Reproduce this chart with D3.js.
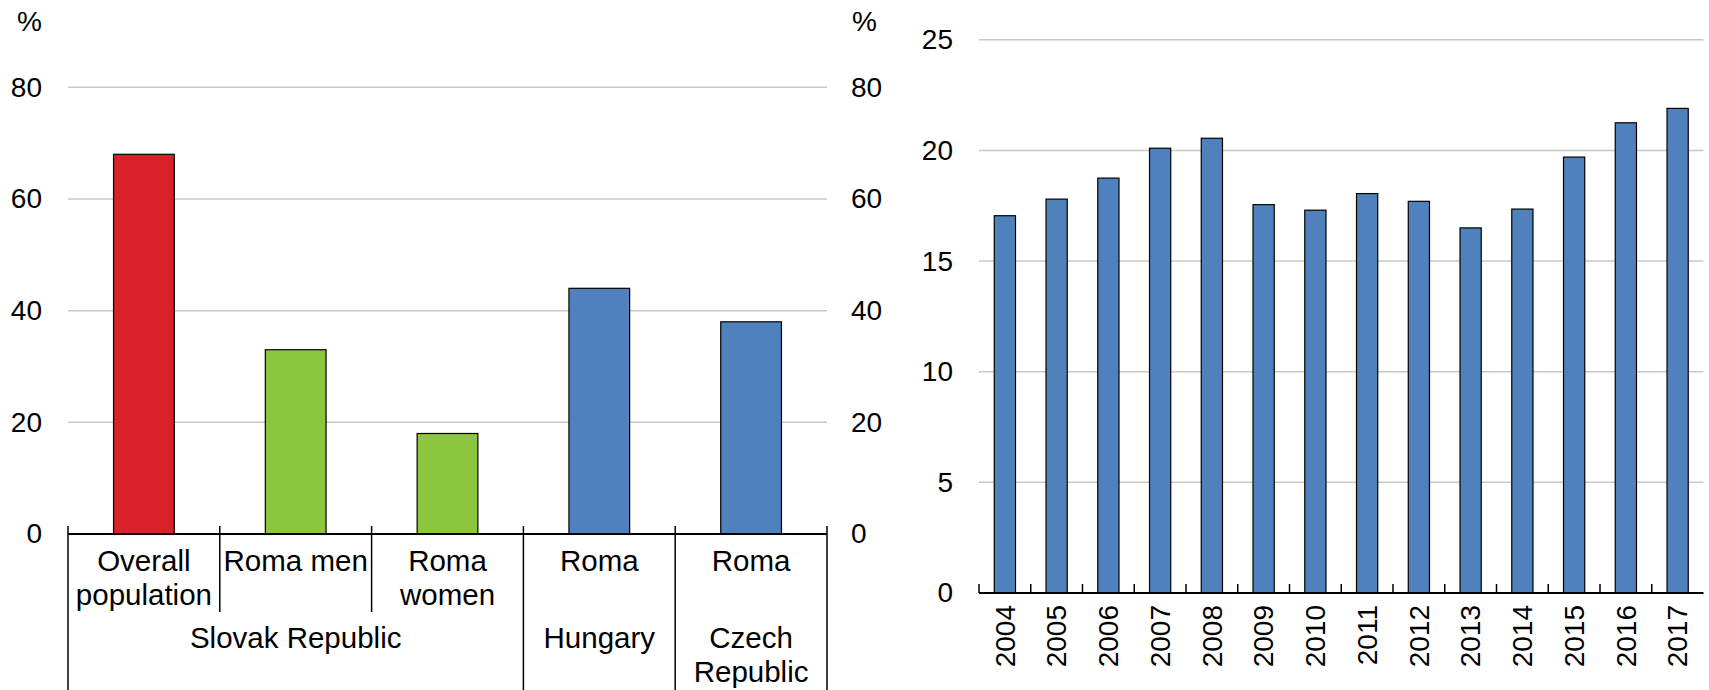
<!DOCTYPE html>
<html>
<head>
<meta charset="utf-8">
<script src="https://cdn.jsdelivr.net/npm/d3@7"></script>
<style>
  body { margin: 0; background: #fff; }
  svg text { font-family: "Liberation Sans", Arial, sans-serif; fill: #000; }
</style>
</head>
<body>
<svg id="chart" width="1709" height="690"></svg>
<script>
// left panel: categories (split in lines), groups, values
var catLabels = [["Overall", "population"], ["Roma men"], ["Roma", "women"], ["Roma"], ["Roma"]];
var groupLabels = [["Slovak Republic"], ["Hungary"], ["Czech", "Republic"]];
var groupSpans = [3, 1, 1];
var leftValues = [68, 33, 18, 44, 38];
var leftTicks = [0, 20, 40, 60, 80];

// right panel
var years = ["2004", "2005", "2006", "2007", "2008", "2009", "2010", "2011", "2012", "2013", "2014", "2015", "2016", "2017"];
var rightValues = [17.05, 17.8, 18.75, 20.1, 20.55, 17.55, 17.3, 18.05, 17.7, 16.5, 17.35, 19.7, 21.25, 21.9];
var rightTicks = [0, 5, 10, 15, 20, 25];

var leftColors = ["#D9212A", "#8CC63F", "#8CC63F", "#4F81BD", "#4F81BD"];
var blue = "#4F81BD";
var fontSize = 28;
var catFont = 29.5;

window.onload = function() {
  makeLeft();
  makeRight();
};

function makeLeft() {
  var svg = d3.select("#chart");
  var x0 = 68, x1 = 827, yTop = 87.3, yBot = 534;

  var x = d3.scaleBand()
    .domain(d3.range(leftValues.length))
    .range([x0, x1])
    .paddingInner(0.6)
    .paddingOuter(0.3);

  var y = d3.scaleLinear().domain([0, 80]).range([yBot, yTop]);

  // gridlines
  svg.append("g").selectAll("line")
    .data(leftTicks.filter(function(d) { return d > 0; }))
    .enter().append("line")
    .attr("x1", x0).attr("x2", x1)
    .attr("y1", y).attr("y2", y)
    .attr("stroke", "#c8c8c8").attr("stroke-width", 1.5);

  // axis labels, both sides
  var axL = svg.append("g").attr("transform", "translate(" + x0 + ",0)")
    .call(d3.axisLeft(y).tickValues(leftTicks).tickSize(0).tickPadding(26));
  var axR = svg.append("g").attr("transform", "translate(" + x1 + ",0)")
    .call(d3.axisRight(y).tickValues(leftTicks).tickSize(0).tickPadding(24));
  [axL, axR].forEach(function(a) {
    a.select(".domain").remove();
    a.selectAll("text").style("font-size", fontSize + "px").attr("font-family", null).attr("fill", "#000");
  });

  svg.append("text").attr("x", 42).attr("y", 21).attr("dy", "0.35em")
    .attr("text-anchor", "end").style("font-size", fontSize + "px").text("%");
  svg.append("text").attr("x", 852).attr("y", 21).attr("dy", "0.35em")
    .attr("text-anchor", "start").style("font-size", fontSize + "px").text("%");

  // bars
  svg.append("g").selectAll("rect")
    .data(leftValues)
    .enter().append("rect")
    .attr("x", function(d, i) { return x(i); })
    .attr("width", x.bandwidth())
    .attr("y", function(d) { return y(d); })
    .attr("height", function(d) { return yBot - y(d); })
    .attr("fill", function(d, i) { return leftColors[i]; })
    .attr("stroke", "#000").attr("stroke-width", 1.2);

  var step = x.step();
  function edge(i) { return x0 + i * step; }

  // group boundaries
  var groupEdges = [0];
  groupSpans.forEach(function(s) { groupEdges.push(groupEdges[groupEdges.length - 1] + s); });

  var g = svg.append("g").attr("stroke", "#000").attr("stroke-width", 1.5);
  d3.range(leftValues.length + 1).forEach(function(i) {
    var isGroup = groupEdges.indexOf(i) >= 0;
    g.append("line")
      .attr("x1", edge(i)).attr("x2", edge(i))
      .attr("y1", yBot - 8).attr("y2", isGroup ? 690 : 612);
  });
  g.append("line").attr("x1", x0).attr("x2", x1).attr("y1", yBot).attr("y2", yBot).attr("stroke-width", 2);

  // category labels
  catLabels.forEach(function(lines, i) {
    var t = svg.append("text").attr("text-anchor", "middle").style("font-size", catFont + "px");
    lines.forEach(function(l, j) {
      t.append("tspan").attr("x", edge(i) + step / 2).attr("y", 571 + j * 34).text(l);
    });
  });

  // group labels
  groupLabels.forEach(function(lines, k) {
    var cx = (edge(groupEdges[k]) + edge(groupEdges[k + 1])) / 2;
    var t = svg.append("text").attr("text-anchor", "middle").style("font-size", catFont + "px");
    lines.forEach(function(l, j) {
      t.append("tspan").attr("x", cx).attr("y", 648 + j * 34).text(l);
    });
  });
}

function makeRight() {
  var svg = d3.select("#chart");
  var x0 = 979, x1 = 1703.5, yTop = 39.8, yBot = 593;

  var x = d3.scaleBand()
    .domain(years)
    .range([x0, x1])
    .paddingInner(0.59)
    .paddingOuter(0.295);

  var y = d3.scaleLinear().domain([0, 25]).range([yBot, yTop]);

  svg.append("g").selectAll("line")
    .data(rightTicks.filter(function(d) { return d > 0; }))
    .enter().append("line")
    .attr("x1", x0).attr("x2", x1)
    .attr("y1", y).attr("y2", y)
    .attr("stroke", "#c8c8c8").attr("stroke-width", 1.5);

  var ax = svg.append("g").attr("transform", "translate(" + x0 + ",0)")
    .call(d3.axisLeft(y).tickValues(rightTicks).tickSize(0).tickPadding(26));
  ax.select(".domain").remove();
  ax.selectAll("text").style("font-size", fontSize + "px").attr("font-family", null).attr("fill", "#000");

  svg.append("g").selectAll("rect")
    .data(rightValues)
    .enter().append("rect")
    .attr("x", function(d, i) { return x(years[i]); })
    .attr("width", x.bandwidth())
    .attr("y", function(d) { return y(d); })
    .attr("height", function(d) { return yBot - y(d); })
    .attr("fill", blue)
    .attr("stroke", "#000").attr("stroke-width", 1.2);

  var step = x.step();
  var g = svg.append("g").attr("stroke", "#000").attr("stroke-width", 1.5);
  d3.range(years.length).forEach(function(i) {
    g.append("line")
      .attr("x1", x0 + i * step).attr("x2", x0 + i * step)
      .attr("y1", yBot - 9).attr("y2", yBot);
  });
  g.append("line").attr("x1", x0).attr("x2", x1).attr("y1", yBot).attr("y2", yBot).attr("stroke-width", 2);

  svg.append("g").selectAll("text")
    .data(years)
    .enter().append("text")
    .attr("transform", function(d) {
      return "translate(" + (x(d) + x.bandwidth() / 2) + ",605) rotate(-90)";
    })
    .attr("text-anchor", "end")
    .attr("dy", "0.35em")
    .style("font-size", fontSize + "px")
    .text(function(d) { return d; });
}
</script>
</body>
</html>
